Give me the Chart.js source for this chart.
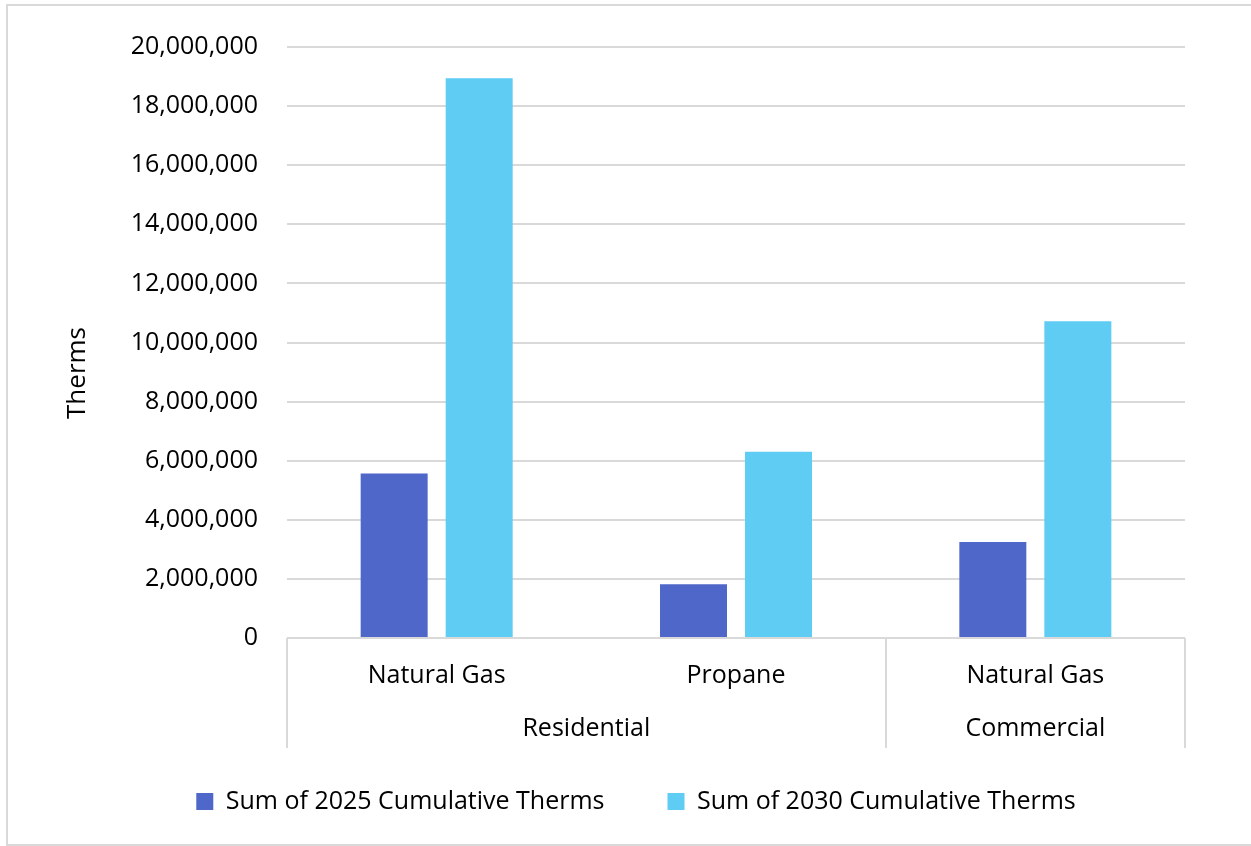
<!DOCTYPE html>
<html>
<head>
<meta charset="utf-8">
<script src="https://cdn.jsdelivr.net/npm/chart.js@4.4.1/dist/chart.umd.min.js"></script>
<style>
  html, body { margin: 0; padding: 0; background: #ffffff; }
  #wrap { width: 1251px; height: 846px; position: relative; }
</style>
</head>
<body>
<div id="wrap"><canvas id="chart" width="1251" height="846"></canvas></div>
<script>
// Fuel types (inner category level) and their sectors (outer level)
const categories = ['Natural Gas', 'Propane', 'Natural Gas'];
const sectors = ['Residential', 'Residential', 'Commercial'];

// Cumulative savings in therms
const therms2025 = [5570000, 1820000, 3250000];
const therms2030 = [18940000, 6300000, 10720000];

const seriesNames = ['Sum of 2025 Cumulative Therms', 'Sum of 2030 Cumulative Therms'];
const yTicks = [0, 2000000, 4000000, 6000000, 8000000, 10000000, 12000000, 14000000, 16000000, 18000000, 20000000];
const yTitle = 'Therms';

const FONT = 'Open Sans';
const GRID = '#d9d9d9';
const PAD_LEFT = 87;

// Outer frame around the whole chart
const frame = {
  id: 'frame',
  beforeDraw(chart) {
    const ctx = chart.ctx;
    ctx.save();
    ctx.strokeStyle = GRID;
    ctx.lineWidth = 2;
    ctx.strokeRect(7, 5, 1270, 840);
    ctx.restore();
  }
};

// Rotated value-axis title, sitting a little below the axis midpoint
const valueTitle = {
  id: 'valueTitle',
  afterDraw(chart) {
    const ctx = chart.ctx;
    ctx.save();
    ctx.translate(78, 373);
    ctx.rotate(-Math.PI / 2);
    ctx.fillStyle = '#000';
    ctx.font = '26px "' + FONT + '"';
    ctx.textAlign = 'center';
    ctx.textBaseline = 'middle';
    ctx.fillText(yTitle, 0, 0);
    ctx.restore();
  }
};

// Second category level: sector names and the divider lines between groups
const sectorAxis = {
  id: 'sectorAxis',
  afterDraw(chart) {
    const ctx = chart.ctx;
    const x = chart.scales.x;
    const area = chart.chartArea;
    const bottom = 748;
    // group ranges from consecutive equal sector names
    const groups = [];
    sectors.forEach((s, i) => {
      if (groups.length && groups[groups.length - 1].name === s) groups[groups.length - 1].end = i;
      else groups.push({ name: s, start: i, end: i });
    });
    const half = (x.getPixelForValue(1) - x.getPixelForValue(0)) / 2;
    const edges = [area.left];
    groups.forEach(g => edges.push(x.getPixelForValue(g.end) + half));
    ctx.save();
    ctx.strokeStyle = GRID;
    ctx.lineWidth = 2;
    edges.forEach(px => {
      ctx.beginPath();
      ctx.moveTo(Math.round(px), area.bottom);
      ctx.lineTo(Math.round(px), bottom);
      ctx.stroke();
    });
    ctx.fillStyle = '#000';
    ctx.font = '25px "' + FONT + '"';
    ctx.textAlign = 'center';
    ctx.textBaseline = 'middle';
    groups.forEach((g, k) => {
      const cx = (edges[k] + edges[k + 1]) / 2;
      ctx.fillText(g.name, cx, 729);
    });
    ctx.restore();
  }
};

new Chart(document.getElementById('chart'), {
  type: 'bar',
  data: {
    labels: categories,
    datasets: [
      { label: seriesNames[0], data: therms2025, backgroundColor: '#4E67C8' },
      { label: seriesNames[1], data: therms2030, backgroundColor: '#5ECCF3' }
    ]
  },
  options: {
    responsive: false,
    animation: false,
    events: [],
    datasets: { bar: { categoryPercentage: 0.568, barPercentage: 0.788 } },
    layout: { padding: { left: PAD_LEFT, right: 66, top: 47, bottom: 22 } },
    plugins: {
      legend: {
        position: 'bottom',
        labels: {
          boxWidth: 17,
          boxHeight: 17,
          padding: 63,
          color: '#000',
          font: { family: FONT, size: 25 }
        }
      },
      tooltip: { enabled: false }
    },
    scales: {
      x: {
        grid: { display: false, drawTicks: false },
        border: { display: false },
        ticks: { color: '#000', padding: 23, font: { family: FONT, size: 25 }, maxRotation: 0 },
        afterFit(scale) { scale.height = 88; }
      },
      y: {
        min: 0,
        max: 20000000,
        afterBuildTicks(scale) { scale.ticks = yTicks.map(v => ({ value: v })); },
        grid: { color: GRID, lineWidth: 2, drawTicks: false },
        border: { display: false },
        ticks: {
          color: '#000',
          padding: 29,
          font: { family: FONT, size: 25 },
          callback: v => Number(v).toLocaleString('en-US')
        },
        afterFit(scale) { scale.width = 287 - PAD_LEFT; }
      }
    }
  },
  plugins: [frame, valueTitle, sectorAxis]
});
</script>
</body>
</html>
